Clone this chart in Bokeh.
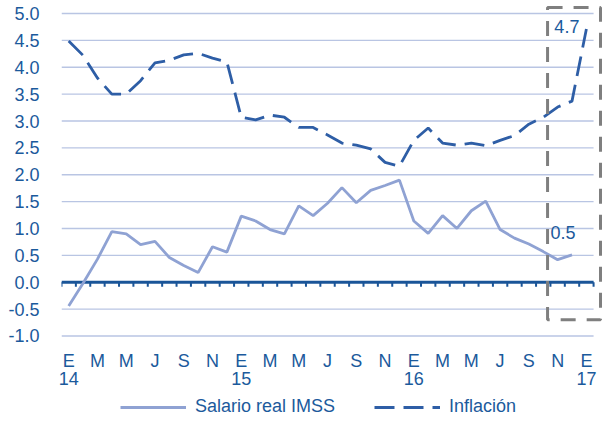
from bokeh.plotting import figure
from bokeh.layouts import column
from bokeh.models import (Range1d, FixedTicker, LinearAxis, NumeralTickFormatter,
                          Legend, LegendItem)
from bokeh.core.properties import value
from bokeh.embed import file_html
from bokeh.resources import INLINE

# ---------------- data ----------------
months = ["E", "F", "M", "A", "M", "J", "J", "A", "S", "O", "N", "D"] * 3 + ["E"]
years = ["14", "15", "16", "17"]
salario = [-0.44, -0.02, 0.43, 0.94, 0.90, 0.70, 0.76, 0.46, 0.31, 0.18, 0.66, 0.56,
           1.23, 1.14, 0.98, 0.90, 1.42, 1.24, 1.47, 1.76, 1.48, 1.71, 1.80, 1.90,
           1.14, 0.91, 1.24, 1.00, 1.33, 1.51, 0.98, 0.82, 0.71, 0.57, 0.42, 0.51]
inflacion = [4.49, 4.22, 3.80, 3.50, 3.50, 3.75, 4.08, 4.13, 4.23, 4.26, 4.17, 4.10,
             3.07, 3.02, 3.11, 3.07, 2.88, 2.88, 2.74, 2.59, 2.55, 2.48, 2.23, 2.16,
             2.64, 2.87, 2.59, 2.55, 2.59, 2.54, 2.64, 2.73, 2.94, 3.07, 3.26, 3.37, 4.71]
y_ticks = [-1.0, -0.5, 0.0, 0.5, 1.0, 1.5, 2.0, 2.5, 3.0, 3.5, 4.0, 4.5, 5.0]
series_names = ["Salario real IMSS", "Inflación"]
highlight_x = (33.3, 36.98)
highlight_y = (-0.7, 5.11)

# ---------------- styles ----------------
FONT = "Liberation Sans"
TXT = "#1B5A9C"
C_SAL = "#8FA2D3"
C_INF = "#2E5EA6"
C_GRID = "#B9C5E3"
C_ZERO = "#1A5598"
SAL_STYLE = dict(line_color=C_SAL, line_width=2.8)
INF_STYLE = dict(line_color=C_INF, line_width=2.8, line_dash="20 9")

n = len(inflacion)
x_inf = list(range(n))
x_sal = list(range(len(salario)))

p = figure(frame_width=542, frame_height=335,
           x_range=Range1d(-0.5, 37.19), y_range=Range1d(-1.084, 5.149),
           output_backend="svg", toolbar_location=None,
           min_border_left=61, min_border_right=2, min_border_top=5, min_border_bottom=52)
p.outline_line_color = None
p.xgrid.visible = False
p.ygrid.visible = False
p.background_fill_color = "white"

# gridlines
p.segment(x0=[-0.5] * len(y_ticks), x1=[n - 0.5] * len(y_ticks), y0=y_ticks, y1=y_ticks,
          line_color=C_GRID, line_width=1.3)
# zero axis line with ticks at category boundaries
p.segment(x0=[-0.5], x1=[n - 0.5], y0=[0], y1=[0], line_color=C_ZERO, line_width=3)
bounds = [k - 0.5 for k in range(n + 1)]
p.segment(x0=bounds, x1=bounds, y0=[0] * len(bounds), y1=[-0.085] * len(bounds),
          line_color=C_ZERO, line_width=2)

p.line(x_sal, salario, **SAL_STYLE)
p.line(x_inf, inflacion, **INF_STYLE)

# highlight box
p.quad(left=[highlight_x[0]], right=[highlight_x[1]], bottom=[highlight_y[0]], top=[highlight_y[1]],
       fill_color=None, line_color="#7F7F7F", line_width=3, line_dash="15 11")

# data labels
p.text(x=[x_inf[-1]], y=[inflacion[-1]], text=[f"{inflacion[-1]:.1f}"], text_align="right",
       text_baseline="middle", x_offset=-7, y_offset=-3, text_color=TXT,
       text_font=value(FONT), text_font_size="18px")
p.text(x=[x_sal[-1]], y=[salario[-1]], text=[f"{salario[-1]:.1f}"], text_align="center",
       text_baseline="middle", x_offset=-9, y_offset=-22, text_color=TXT,
       text_font=value(FONT), text_font_size="18px")

# y axis
ya = p.yaxis[0]
ya.ticker = FixedTicker(ticks=y_ticks)
ya.formatter = NumeralTickFormatter(format="0.0")
ya.axis_line_color = None
ya.major_tick_line_color = None
ya.minor_tick_line_color = None
ya.major_label_standoff = 16
ya.major_label_text_color = TXT
ya.major_label_text_font = FONT
ya.major_label_text_font_size = "18px"

# x axis (months)
xa = p.xaxis[0]
month_ticks = list(range(0, n, 2))
xa.ticker = FixedTicker(ticks=month_ticks)
xa.major_label_overrides = {t: months[t] for t in month_ticks}
xa.axis_line_color = None
xa.major_tick_line_color = None
xa.minor_tick_line_color = None
xa.major_label_standoff = 4
xa.major_label_text_color = TXT
xa.major_label_text_font = FONT
xa.major_label_text_font_size = "18px"

# x axis (years)
year_ticks = list(range(0, n, 12))
ya2 = LinearAxis(ticker=FixedTicker(ticks=year_ticks),
                 major_label_overrides={t: years[i] for i, t in enumerate(year_ticks)},
                 axis_line_color=None, major_tick_line_color=None, minor_tick_line_color=None,
                 major_label_standoff=-8, major_label_text_color=TXT,
                 major_label_text_font=FONT, major_label_text_font_size="18px")
p.add_layout(ya2, "below")

# legend strip below the chart (its lines carry only the series styles)
pl = figure(width=605, height=33, x_range=Range1d(0, 1), y_range=Range1d(0, 1),
            output_backend="svg", toolbar_location=None, min_border=0,
            x_axis_location=None, y_axis_location=None)
pl.outline_line_color = None
pl.xgrid.visible = False
pl.ygrid.visible = False
l_sal = pl.line(x=[-1], y=[-1], **SAL_STYLE)
l_inf = pl.line(x=[-1], y=[-1], **INF_STYLE)
legend = Legend(items=[LegendItem(label=series_names[0], renderers=[l_sal]),
                       LegendItem(label=series_names[1], renderers=[l_inf])],
                orientation="horizontal", location=(59, 8), padding=0, margin=0,
                spacing=39, glyph_width=66, glyph_height=20, label_standoff=9,
                border_line_color=None, background_fill_alpha=0,
                label_text_color=TXT, label_text_font=FONT, label_text_font_size="18px")
pl.add_layout(legend, "center")

open("out.html", "w").write(file_html(column(p, pl, spacing=0), INLINE))
